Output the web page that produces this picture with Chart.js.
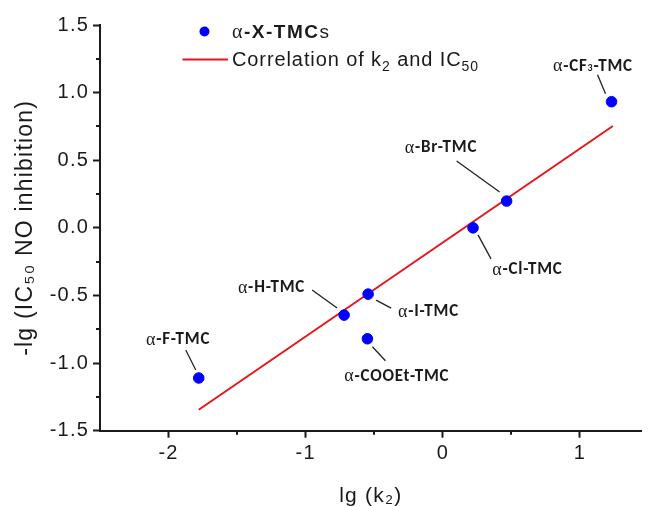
<!DOCTYPE html>
<html><head><meta charset="utf-8">
<style>html,body{margin:0;padding:0;background:#fff;overflow:hidden}#wrap{width:648px;height:506px;position:relative}canvas{display:block}</style>
</head><body><div id="wrap"><canvas id="c" width="648" height="506"></canvas></div>
<script src="https://cdn.jsdelivr.net/npm/chart.js@4"></script>
<script>
// ---- data ----
const compounds = ['F', 'H', 'I', 'COOEt', 'Cl', 'Br', 'CF3'];
const lgK2 = [-1.78, -0.72, -0.545, -0.55, 0.22, 0.465, 1.23];
const negLgIC50 = [-1.11, -0.645, -0.49, -0.82, 0.0, 0.198, 0.933];
const fitX = [-1.78, 1.24];
const fitY = [-1.345, 0.753];
const xMajorTicks = [-2, -1, 0, 1];
const xMinorTicks = [-1.5, -0.5, 0.5];
const yMajorTicks = [-1.5, -1.0, -0.5, 0.0, 0.5, 1.0, 1.5];
const yMinorTicks = [-1.25, -0.75, -0.25, 0.25, 0.75, 1.25];
const seriesName = 'α-X-TMCs';
const fitName = 'Correlation of k2 and IC50';
const xTitle = 'lg (k₂)';
const yTitle = '-lg (IC₅₀ NO inhibition)';

// ---- label layout (pixel offsets from each point: text centre, leader start, leader end) ----
const labelLayout = {
  F:     {t: [-21, -38], a: [-13, -28], b: [-3, -8]},
  H:     {t: [-73, -27], a: [-32, -25], b: [-7, -7]},
  I:     {t: [60, 18],   a: [8, 6],     b: [23, 14]},
  COOEt: {t: [29, 38],   a: [5, 8],     b: [18, 22]},
  Cl:    {t: [54, 42],   a: [5, 7],     b: [18, 31]},
  Br:    {t: [-66, -53], a: [-50, -40], b: [-7, -9]},
  CF3:   {t: [-19, -35], a: [-14, -27], b: [-6, -8]}
};

const AX = '"Liberation Sans", Arial, sans-serif';
const SERIF = '"Liberation Serif", "Times New Roman", serif';
const LBL = 'Carlito, Lato, "Open Sans", sans-serif';
const INK = '#1a1a1a';

function drawRich(ctx, segs, x, y, align, spacing) {
  ctx.letterSpacing = spacing + 'px';
  let w = 0;
  segs.forEach(s => { ctx.font = s.font; s.w = ctx.measureText(s.text).width; w += s.w; });
  w -= spacing;
  let cx = align === 'center' ? x - w / 2 : x;
  ctx.textAlign = 'left';
  segs.forEach(s => { ctx.font = s.font; ctx.fillText(s.text, cx, y + (s.dy || 0)); cx += s.w; });
  ctx.letterSpacing = '0px';
}

function labelSegs(name) {
  const b = 'bold 17px ' + LBL;
  const a = {text: 'α', font: '18px ' + SERIF};
  if (name === 'CF3') {
    return [a, {text: '-CF', font: b}, {text: '3', font: 'bold 10px ' + LBL, dy: 2}, {text: '-TMC', font: b}];
  }
  return [a, {text: '-' + name + '-TMC', font: b}];
}

const spacingPlugin = {
  id: 'spacing',
  beforeUpdate(chart) { chart.ctx.letterSpacing = '1.2px'; },
  beforeDraw(chart) { chart.ctx.letterSpacing = '1.2px'; }
};

const overlay = {
  id: 'overlay',
  afterDraw(chart) {
    const ctx = chart.ctx;
    const xs = chart.scales.x, ys = chart.scales.y;
    ctx.save();
    ctx.letterSpacing = '0px';
    // minor ticks
    ctx.strokeStyle = INK; ctx.lineWidth = 2;
    xMinorTicks.forEach(v => {
      const px = Math.round(xs.getPixelForValue(v));
      ctx.beginPath(); ctx.moveTo(px, xs.top); ctx.lineTo(px, xs.top + 4); ctx.stroke();
    });
    yMinorTicks.forEach(v => {
      const py = Math.round(ys.getPixelForValue(v));
      ctx.beginPath(); ctx.moveTo(ys.right, py); ctx.lineTo(ys.right - 4, py); ctx.stroke();
    });
    // point labels with leader lines
    ctx.lineWidth = 1.3; ctx.strokeStyle = '#222';
    ctx.fillStyle = INK; ctx.textBaseline = 'middle';
    compounds.forEach((c, i) => {
      const px = xs.getPixelForValue(lgK2[i]);
      const py = ys.getPixelForValue(negLgIC50[i]);
      const L = labelLayout[c];
      ctx.beginPath(); ctx.moveTo(px + L.a[0], py + L.a[1]); ctx.lineTo(px + L.b[0], py + L.b[1]); ctx.stroke();
      drawRich(ctx, labelSegs(c), px + L.t[0], py + L.t[1], 'center', 0.8);
    });
    // legend
    ctx.textBaseline = 'alphabetic';
    ctx.fillStyle = '#0000ff';
    ctx.beginPath(); ctx.arc(204.5, 31.5, 5, 0, Math.PI * 2); ctx.fill();
    ctx.fillStyle = INK;
    drawRich(ctx, [
      {text: seriesName.slice(0, 1), font: '20px ' + SERIF},
      {text: seriesName.slice(1, 7), font: 'bold 19px ' + AX},
      {text: seriesName.slice(7), font: '19px ' + AX}
    ], 232, 37.5, 'left', 1.5);
    ctx.strokeStyle = '#e8141c'; ctx.lineWidth = 2;
    ctx.beginPath(); ctx.moveTo(182.5, 59.5); ctx.lineTo(228, 59.5); ctx.stroke();
    const f = '20px ' + AX, fs = '14px ' + AX;
    drawRich(ctx, [
      {text: fitName.slice(0, 16), font: f},
      {text: fitName.slice(16, 17), font: fs, dy: 5},
      {text: fitName.slice(17, 24), font: f},
      {text: fitName.slice(24), font: fs, dy: 5}
    ], 232, 65.5, 'left', 0.9);
    ctx.restore();
  }
};

const ctx = document.getElementById('c').getContext('2d');
new Chart(ctx, {
  data: {
    datasets: [
      {
        type: 'line', label: fitName,
        data: fitX.map((x, i) => ({x, y: fitY[i]})),
        borderColor: '#e8141c', borderWidth: 2, pointRadius: 0, fill: false, order: 2
      },
      {
        type: 'scatter', label: seriesName,
        data: lgK2.map((x, i) => ({x, y: negLgIC50[i]})),
        backgroundColor: '#0000ff', borderColor: '#0000ff', pointRadius: 5.3, pointHoverRadius: 5.3, order: 1
      }
    ]
  },
  options: {
    responsive: false, animation: false, devicePixelRatio: 1,
    layout: {padding: {top: 25, right: 0, bottom: 0, left: 0}},
    plugins: {legend: {display: false}, tooltip: {enabled: false}},
    scales: {
      x: {
        type: 'linear', min: -2.5, max: 1.45,
        afterBuildTicks: s => { s.ticks = xMajorTicks.map(v => ({value: v})); },
        afterFit: s => { s.height = 75.3; },
        ticks: {autoSkip: false, maxRotation: 0, padding: 4, color: INK,
          font: {family: AX, size: 20}, callback: v => String(v)},
        grid: {display: true, drawOnChartArea: false, drawTicks: true, tickLength: 7, tickWidth: 2, tickColor: INK},
        border: {display: true, color: INK, width: 2},
        title: {display: true, text: xTitle, color: INK, font: {family: AX, size: 21}, padding: {top: 0, bottom: -3}}
      },
      y: {
        type: 'linear', min: -1.5, max: 1.5,
        afterBuildTicks: s => { s.ticks = yMajorTicks.map(v => ({value: v})); },
        afterFit: s => { s.width = 100; },
        ticks: {autoSkip: false, padding: 4, color: INK,
          font: {family: AX, size: 20}, callback: v => Number(v).toFixed(1)},
        grid: {display: true, drawOnChartArea: false, drawTicks: true, tickLength: 7, tickWidth: 2, tickColor: INK},
        border: {display: true, color: INK, width: 2},
        title: {display: true, text: yTitle, color: INK, font: {family: AX, size: 23}, padding: {top: 12, bottom: 0}}
      }
    }
  },
  plugins: [spacingPlugin, overlay]
});
</script>
</body></html>
